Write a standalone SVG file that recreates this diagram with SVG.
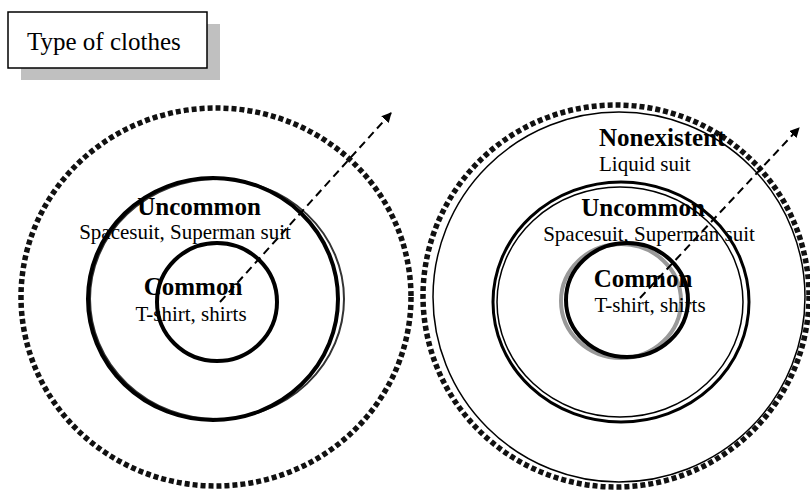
<svg xmlns="http://www.w3.org/2000/svg" width="810" height="492" viewBox="0 0 810 492">
<style>
text{font-family:"Liberation Serif","Times New Roman",serif;fill:#000}
.b{font-weight:bold;font-size:25px}
.r{font-size:21px}
.dot{fill:none;stroke:#111;stroke-width:5.5;stroke-dasharray:5 3}
.thick{fill:none;stroke:#000;stroke-width:4}
.thin{fill:none;stroke:#000;stroke-width:1.5}
.arrow{fill:none;stroke:#000;stroke-width:2;stroke-dasharray:8 5}
</style>
<defs>
<marker id="ah" markerWidth="10" markerHeight="10" refX="9" refY="5" orient="auto" markerUnits="userSpaceOnUse" viewBox="0 0 10 10">
<path d="M0,0 L10,5 L0,10 z" fill="#000"/>
</marker>
</defs>
<g id="title">
<rect x="21" y="24" width="199" height="56" fill="#c0c0c0"/>
<rect x="8" y="12" width="199" height="56" fill="#fff" stroke="#000" stroke-width="1.5"/>
<text x="27" y="50" style="font-size:25px">Type of clothes</text>
</g>
<g id="left-diagram">
<g id="left-outer"><ellipse cx="216" cy="297" rx="195" ry="189" class="dot"/></g>
<g id="left-uncommon">
<ellipse cx="217" cy="299" rx="127" ry="120" fill="none" stroke="#333" stroke-width="2"/>
<ellipse cx="213" cy="299" rx="125" ry="121" class="thick"/>
<text x="199" y="215" class="b" text-anchor="middle">Uncommon</text>
<text x="185" y="239" class="r" text-anchor="middle">Spacesuit, Superman suit</text>
</g>
<g id="left-common">
<ellipse cx="217" cy="302" rx="60" ry="59" class="thick"/>
<text x="193" y="295" class="b" text-anchor="middle">Common</text>
<text x="191" y="321" class="r" text-anchor="middle">T-shirt, shirts</text>
</g>
</g>
<g id="right-diagram">
<g id="right-outer">
<ellipse cx="616" cy="296" rx="193" ry="191" class="dot"/>
<ellipse cx="619" cy="297" rx="186" ry="185" class="thin"/>
<text x="599" y="146" class="b">Nonexistent</text>
<text x="599" y="171" class="r">Liquid suit</text>
</g>
<g id="right-uncommon">
<ellipse cx="621" cy="302" rx="128" ry="120" fill="none" stroke="#000" stroke-width="3"/>
<ellipse cx="620" cy="302" rx="123" ry="115" class="thin"/>
<text x="643" y="216" class="b" text-anchor="middle">Uncommon</text>
<text x="649" y="241" class="r" text-anchor="middle">Spacesuit, Superman suit</text>
</g>
<g id="right-common">
<ellipse cx="621" cy="301" rx="60" ry="57" fill="none" stroke="#999" stroke-width="4"/>
<ellipse cx="627" cy="300" rx="61" ry="57" class="thick"/>
<text x="643" y="287" class="b" text-anchor="middle">Common</text>
<text x="650" y="312" class="r" text-anchor="middle">T-shirt, shirts</text>
</g>
</g>
<g id="connectors">
<line x1="220" y1="302" x2="391" y2="113" class="arrow" marker-end="url(#ah)"/>
<line x1="640" y1="298" x2="799" y2="128" class="arrow" marker-end="url(#ah)"/>
</g>
</svg>
